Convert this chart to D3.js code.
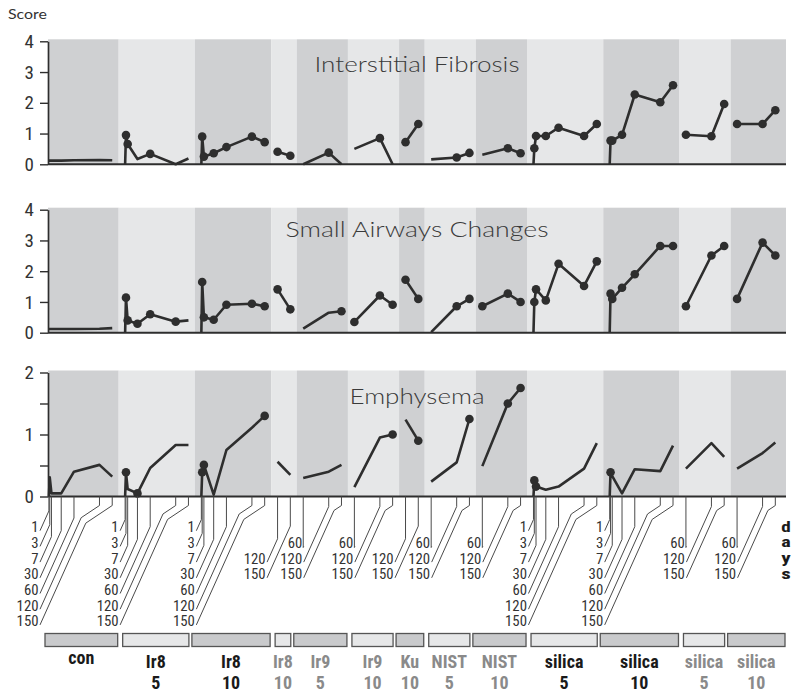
<!DOCTYPE html>
<html><head><meta charset="utf-8">
<script src="https://cdn.jsdelivr.net/npm/d3@7"></script>
<style>body{margin:0;background:#fff;}</style></head>
<body>
<svg id="chart" width="800" height="695"></svg>
<script>
// ---------------- DATA ----------------
const groupNames = ["con","Ir8","Ir8","Ir8","Ir9","Ir9","Ku","NIST","NIST","silica","silica","silica","silica"];
const groupDoses = ["","5","10","10","5","10","10","5","10","5","10","5","10"];
const labelStrong = [true,true,true,false,false,false,false,false,false,true,true,false,false];
const fullDays = [1,3,7,30,60,120,150];
const lateDays = [60,120,150];
const lastDays = [120,150];
const groupDays = [fullDays,fullDays,fullDays,lastDays,lateDays,lateDays,lastDays,lateDays,lateDays,fullDays,fullDays,lateDays,lateDays];
const panelTitles = ["Interstitial Fibrosis","Small Airways Changes","Emphysema"];
const yTicksScore4 = [0,1,2,3,4];
const yTicksScore2 = [0,0.5,1,1.5,2];

const fibrosis = [
  [0.12,0.12,0.12,0.12,0.13,0.14,0.13],
  [0,0.95,0.66,0.17,0.34,0,0.19],
  [0,0.9,0.25,0.36,0.56,0.9,0.72],
  [0.41,0.28],
  [0,0.38,0],
  [0.5,0.85,0],
  [0.72,1.31],
  [0.16,0.22,0.37],
  [0.31,0.52,0.36],
  [0,0.52,0.92,0.92,1.19,0.92,1.31],
  [0,0.77,0.77,0.96,2.27,2.02,2.57],
  [0.96,0.91,1.96],
  [1.31,1.31,1.76]
];
const fibrosisDots = [
  [0,0,0,0,0,0,0],[0,1,1,0,1,0,0],[0,1,1,1,1,1,1],[1,1],[0,1,0],[0,1,0],[1,1],
  [0,1,1],[0,1,1],[0,1,1,1,1,1,1],[0,1,1,1,1,1,1],[1,1,1],[1,1,1]
];
const airways = [
  [0.12,0.12,0.12,0.12,0.12,0.13,0.15],
  [0,1.14,0.4,0.29,0.6,0.36,0.4],
  [0,1.65,0.5,0.42,0.91,0.94,0.86],
  [1.41,0.76],
  [0.13,0.65,0.7],
  [0.35,1.21,0.91],
  [1.72,1.1],
  [0.02,0.86,1.1],
  [0.86,1.27,1.0],
  [0,1.0,1.41,1.05,2.24,1.52,2.32],
  [0,1.27,1.1,1.46,1.9,2.82,2.82],
  [0.86,2.51,2.82],
  [1.1,2.93,2.51]
];
const airwaysDots = [
  [0,0,0,0,0,0,0],[0,1,1,1,1,1,0],[0,1,1,1,1,1,1],[1,1],[0,0,1],[1,1,1],[1,1],
  [0,1,1],[1,1,1],[0,1,1,1,1,1,1],[0,1,1,1,1,1,1],[1,1,1],[1,1,1]
];
const emphysema = [
  [0,0.31,0.05,0.05,0.4,0.51,0.32],
  [0,0.39,0.12,0.05,0.46,0.83,0.83],
  [0,0.39,0.51,0.03,0.75,1.11,1.3],
  [0.56,0.35],
  [0.3,0.4,0.51],
  [0.15,0.95,1.0],
  [1.24,0.9],
  [0.24,0.55,1.25],
  [0.49,1.5,1.75],
  [0,0.26,0.16,0.11,0.16,0.45,0.86],
  [0,0.39,0.33,0.05,0.44,0.41,0.82],
  [0.45,0.86,0.64],
  [0.45,0.7,0.87]
];
const emphysemaDots = [
  [0,0,0,0,0,0,0],[0,1,0,1,0,0,0],[0,1,1,0,0,0,1],[0,0],[0,0,0],[0,0,1],[0,1],
  [0,0,1],[0,1,1],[0,1,1,0,0,0,0],[0,1,0,0,0,0,0],[0,0,0],[0,0,0]
];

// ---------------- LAYOUT / STYLE ----------------
const NARROW = "'Liberation Sans Narrow','Arial Narrow','Roboto Condensed',sans-serif";
const GEO = "Lato,'Open Sans',sans-serif";
const INK = "#2e2e2e";
const DARK_BAND = "#cfd0d2", LIGHT_BAND = "#e6e7e8";
const plotLeft = 48, plotRight = 786;
const pxPerDay = 0.425, groupGap = 12.9, firstX = 48.9;

const svg = d3.select("#chart");

let cursor = firstX;
const layout = groupDays.map(gd => {
  const d0 = gd[0], d1 = gd[gd.length-1];
  const x = d3.scaleLinear().domain([d0,d1]).range([cursor, cursor + (d1-d0)*pxPerDay]);
  cursor += (d1-d0)*pxPerDay + groupGap;
  return {x, d0, d1};
});
layout.forEach((g,i) => {
  g.bandStart = i === 0 ? plotLeft : (layout[i-1].x(layout[i-1].d1) + g.x(g.d0))/2;
});
layout.forEach((g,i) => { g.bandEnd = i === layout.length-1 ? plotRight : layout[i+1].bandStart; });

const panels = [
  {title: panelTitles[0], values: fibrosis, dots: fibrosisDots, max: 4, ticks: yTicksScore4, y0: 164.3, y1: 41.3, titleY: 72},
  {title: panelTitles[1], values: airways, dots: airwaysDots, max: 4, ticks: yTicksScore4, y0: 332.7, y1: 209.7, titleY: 236.7},
  {title: panelTitles[2], values: emphysema, dots: emphysemaDots, max: 2, ticks: yTicksScore2, y0: 496.5, y1: 372.5, titleY: 404.3}
];
const titleWidths = [205, 263, 135];

svg.append("text").attr("x", 8).attr("y", 19).text("Score")
  .attr("font-family", GEO).attr("font-size", 14).attr("fill", "#333")
  .attr("textLength", 39).attr("lengthAdjust", "spacingAndGlyphs");

panels.forEach((p, pi) => {
  const y = d3.scaleLinear().domain([0, p.max]).range([p.y0, p.y1]);
  const g = svg.append("g");
  // bands
  g.selectAll("rect.band").data(layout).join("rect")
    .attr("x", d => d.bandStart).attr("width", d => d.bandEnd - d.bandStart)
    .attr("y", p.y1 - 2).attr("height", p.y0 - p.y1 + 2)
    .attr("fill", (d,i) => i % 2 ? LIGHT_BAND : DARK_BAND);
  // title
  g.append("text").attr("x", (plotLeft + plotRight)/2).attr("y", p.titleY)
    .attr("text-anchor", "middle").attr("font-family", GEO).attr("font-size", 22).attr("font-weight", 300)
    .attr("fill", "#3a3a3a").attr("textLength", titleWidths[pi]).attr("lengthAdjust", "spacingAndGlyphs")
    .text(p.title);
  // series
  layout.forEach((lg, gi) => {
    const gd = groupDays[gi];
    const pts = p.values[gi].map((v, j) => ({day: gd[j], v, dot: p.dots[gi][j]}));
    const line = d3.line().x(d => lg.x(d.day)).y(d => y(d.v));
    g.append("path").attr("d", line(pts)).attr("fill", "none")
      .attr("stroke", INK).attr("stroke-width", 2.6).attr("stroke-linejoin", "round").attr("stroke-linecap", "butt");
    g.selectAll(null).data(pts.filter(d => d.dot)).join("circle")
      .attr("cx", d => lg.x(d.day)).attr("cy", d => y(d.v)).attr("r", 4.3).attr("fill", INK);
  });
  // x baseline
  g.append("line").attr("x1", plotLeft).attr("x2", plotRight).attr("y1", p.y0).attr("y2", p.y0)
    .attr("stroke", INK).attr("stroke-width", 2);
  // y axis
  const ax = g.append("g").attr("transform", `translate(${plotLeft},0)`)
    .call(d3.axisLeft(y).tickValues(p.ticks).tickSize(8).tickSizeOuter(0).tickPadding(6)
      .tickFormat(d => Number.isInteger(d) ? d : ""));
  ax.select(".domain").attr("stroke", INK).attr("stroke-width", 1.7);
  ax.selectAll(".tick line").attr("stroke", INK).attr("stroke-width", 1.4);
  ax.selectAll(".tick text").attr("font-family", NARROW).attr("font-size", 19).attr("fill", "#333");
});

// -------- day labels with leader lines (under bottom panel) --------
const axisY = panels[2].y0;
const rowY0 = 526.7, rowStep = 15.7;
const steep = 0.45, shallow = 1.5, minDrop = 9;
const digitW = 7.3;
const lg = svg.append("g");
layout.forEach((g, gi) => {
  const gd = groupDays[gi];
  const rowShift = g.d0 === 60 ? 1 : g.d0 === 120 ? 2 : 0;
  const off = g.d0 === 1 ? 6.5 : g.d0 === 60 ? 1 : 12;
  const labelRight = Math.min(g.x(g.d0) - off, gi === 0 ? plotLeft - 9.5 : Infinity);
  gd.forEach((day, j) => {
    const row = j + rowShift;
    const base = rowY0 + row*rowStep + 5.5;
    lg.append("text").attr("x", labelRight).attr("y", base).attr("text-anchor", "end")
      .attr("font-family", NARROW).attr("font-size", 13.8).attr("fill", "#333")
      .attr("textLength", String(day).length*digitW).attr("lengthAdjust", "spacingAndGlyphs").text(day);
    const tx = g.x(day), lx = labelRight + 1.5, ly = base - 1.5;
    const yb0 = axisY + minDrop;
    const knee = ly - (tx - lx)/steep;
    let path;
    if (knee >= yb0) {
      path = d3.line()([[tx, axisY], [tx, knee], [lx, ly]]);
    } else {
      const ky = (tx + shallow*yb0 - lx - steep*ly)/(shallow - steep);
      const kx = lx + steep*(ly - ky);
      path = d3.line()([[tx, axisY], [tx, yb0], [kx, ky], [lx, ly]]);
    }
    lg.append("path").attr("d", path).attr("fill", "none").attr("stroke", "#4a4a4a").attr("stroke-width", 1);
  });
});
// "days" vertical word
"days".split("").forEach((c, i) => {
  svg.append("text").attr("x", 786).attr("y", rowY0 + i*rowStep + 5).attr("text-anchor", "middle")
    .attr("font-family", NARROW).attr("font-weight", "bold").attr("font-size", 13.8).attr("fill", "#1a1a1a")
    .attr("textLength", 9.5).attr("lengthAdjust", "spacingAndGlyphs").text(c);
});

// -------- group boxes and labels --------
const bg = svg.append("g");
layout.forEach((g, gi) => {
  const dark = gi % 2 === 0;
  const x0 = dark ? g.bandStart - 3 : g.bandStart + 4;
  const x1 = dark ? g.bandEnd - 1 : g.bandEnd - 6;
  bg.append("rect").attr("x", x0).attr("y", 633.5).attr("width", x1 - x0).attr("height", 13)
    .attr("fill", dark ? "#c9cacc" : "#e6e7e8").attr("stroke", "#555").attr("stroke-width", 1.3);
  const cx = (x0 + x1)/2;
  const col = labelStrong[gi] ? "#1a1a1a" : "#8a8a8a";
  bg.append("text").attr("x", cx).attr("y", groupDoses[gi] ? 668 : 664).attr("text-anchor", "middle")
    .attr("font-family", NARROW).attr("font-weight", "bold").attr("font-size", 18).attr("fill", col).text(groupNames[gi]);
  if (groupDoses[gi]) bg.append("text").attr("x", cx).attr("y", 689).attr("text-anchor", "middle")
    .attr("font-family", NARROW).attr("font-weight", "bold").attr("font-size", 18).attr("fill", col).text(groupDoses[gi]);
});
</script>
</body></html>
